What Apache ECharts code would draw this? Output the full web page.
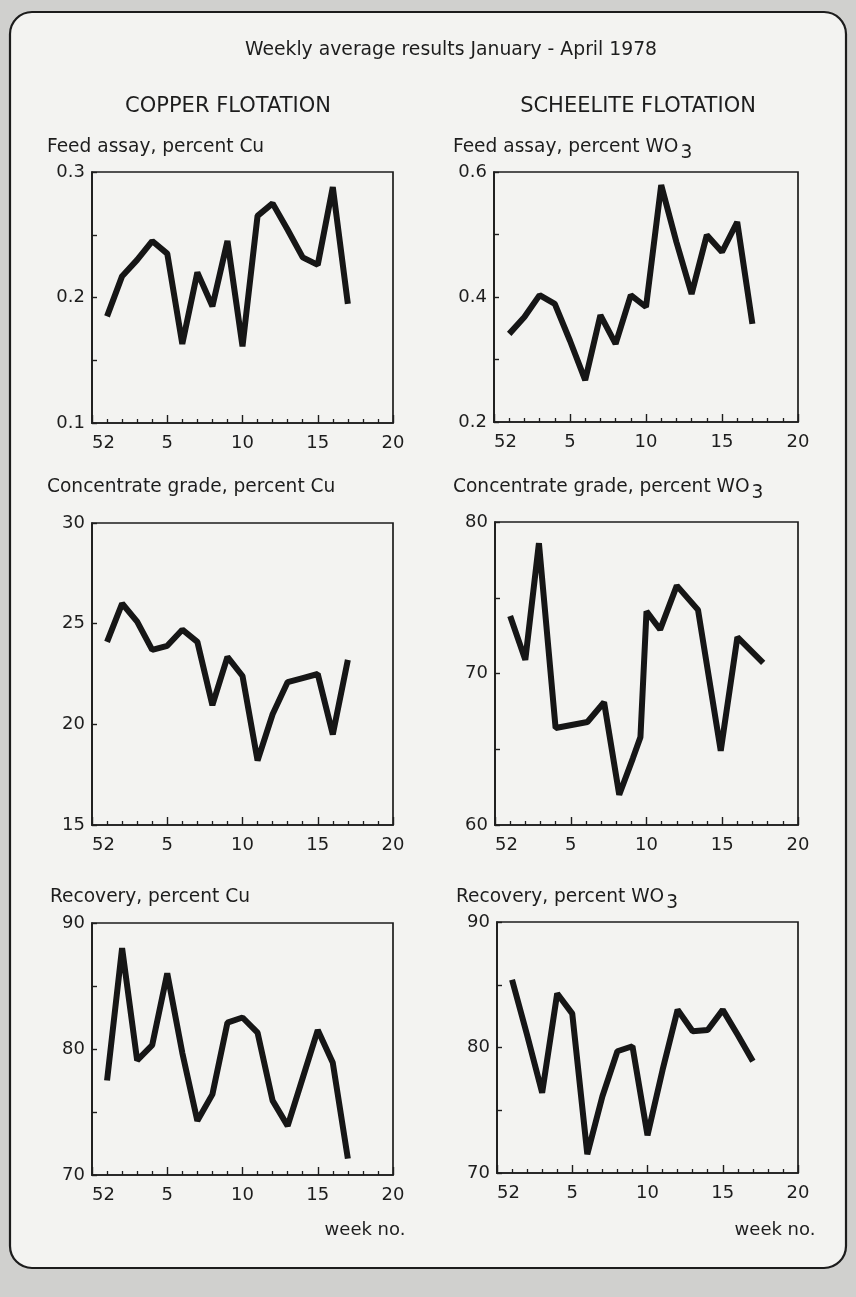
<!DOCTYPE html>
<html>
<head>
<meta charset="utf-8">
<script src="https://cdn.jsdelivr.net/npm/echarts/dist/echarts.min.js"></script>
<style>
html,body{margin:0;padding:0;background:#d0d0ce;}
#c{width:856px;height:1297px;}
</style>
</head>
<body>
<div id="c"></div>
<script>
// ---------- data ----------
const weeks = [1, 2, 3, 4, 5, 6, 7, 8, 9, 10, 11, 12, 13, 14, 15, 16, 17];
const xTickLabels = {0: '52', 5: '5', 10: '10', 15: '15', 20: '20'};

const cuFeed   = [0.185, 0.217, 0.230, 0.245, 0.235, 0.163, 0.220, 0.193, 0.245, 0.161, 0.265, 0.275, 0.254, 0.232, 0.226, 0.288, 0.195];
const wo3Feed  = [0.341, 0.368, 0.403, 0.389, 0.330, 0.267, 0.371, 0.325, 0.403, 0.384, 0.579, 0.488, 0.405, 0.499, 0.472, 0.520, 0.357];
const cuGrade  = [24.1, 26.0, 25.1, 23.7, 23.9, 24.7, 24.1, 20.95, 23.35, 22.4, 18.2, 20.5, 22.1, 22.3, 22.5, 19.5, 23.2];
const wo3GradeWeeks = [1, 2, 2.9, 4, 6.1, 7.2, 8.2, 9.1, 9.6, 10, 10.9, 12, 13.4, 14.9, 16, 17.7];
const wo3Grade = [73.8, 70.9, 78.6, 66.4, 66.8, 68.1, 62.0, 64.4, 65.8, 74.1, 72.9, 75.8, 74.2, 64.9, 72.4, 70.7];
const cuRec    = [77.5, 88.0, 79.1, 80.3, 86.0, 79.7, 74.3, 76.4, 82.1, 82.5, 81.3, 75.9, 73.9, 77.7, 81.5, 78.9, 71.3];
const wo3Rec   = [85.4, 81.0, 76.4, 84.3, 82.7, 71.5, 76.1, 79.7, 80.1, 73.0, 78.2, 83.0, 81.3, 81.4, 83.0, 81.0, 78.9];

const titleText = 'Weekly average results January - April 1978';
const colTitles = ['COPPER FLOTATION', 'SCHEELITE FLOTATION'];
const panelTitles = [
  ['Feed assay, percent Cu', 'Feed assay, percent WO', '3'],
  ['Concentrate grade, percent Cu', 'Concentrate grade, percent WO', '3'],
  ['Recovery, percent Cu', 'Recovery, percent WO', '3']
];
const xName = 'week no.';

// ---------- layout ----------
const FONT = '"DejaVu Sans", "Liberation Sans", sans-serif';
const INK = '#1d1d1d';

const panels = [
  {grid: {left: 92,  top: 172, width: 301, height: 251}, xs: weeks, ys: cuFeed,  min: 0.1, max: 0.3, interval: 0.05, step: 2, dec: 1},
  {grid: {left: 494, top: 172, width: 304, height: 250}, xs: weeks, ys: wo3Feed, min: 0.2, max: 0.6, interval: 0.1,  step: 2, dec: 1},
  {grid: {left: 92,  top: 523, width: 301, height: 302}, xs: weeks, ys: cuGrade, min: 15,  max: 30,  interval: 5,    step: 1, dec: 0},
  {grid: {left: 495, top: 522, width: 303, height: 303}, xs: wo3GradeWeeks, ys: wo3Grade, min: 60, max: 80, interval: 5, step: 2, dec: 0},
  {grid: {left: 92,  top: 923, width: 301, height: 252}, xs: weeks, ys: cuRec,   min: 70,  max: 90,  interval: 5,    step: 2, dec: 0},
  {grid: {left: 497, top: 922, width: 301, height: 251}, xs: weeks, ys: wo3Rec,  min: 70,  max: 90,  interval: 5,    step: 2, dec: 0}
];

const grids = [], xAxes = [], yAxes = [], series = [];
panels.forEach((p, i) => {
  grids.push(Object.assign({show: true, borderColor: INK, borderWidth: 1.7, backgroundColor: 'transparent'}, p.grid));
  xAxes.push({
    type: 'value', gridIndex: i, min: 0, max: 20, interval: 5,
    axisLine: {show: true, lineStyle: {color: INK, width: 1.7}},
    axisTick: {show: true, inside: true, length: 8, lineStyle: {color: INK, width: 1.4}},
    minorTick: {show: true, splitNumber: 5, length: 4, lineStyle: {color: INK, width: 1.3}},
    splitLine: {show: false}, minorSplitLine: {show: false},
    axisLabel: {
      color: INK, fontFamily: FONT, fontSize: 18, margin: 11,
      alignMinLabel: 'left',
      formatter: v => (xTickLabels[Math.round(v)] !== undefined ? xTickLabels[Math.round(v)] : '')
    }
  });
  yAxes.push({
    type: 'value', gridIndex: i, min: p.min, max: p.max, interval: p.interval,
    axisLine: {show: true, lineStyle: {color: INK, width: 1.7}},
    axisTick: {show: true, inside: true, length: 5, lineStyle: {color: INK, width: 1.4}},
    splitLine: {show: false},
    axisLabel: {
      color: INK, fontFamily: FONT, fontSize: 18, margin: 7,
      formatter: v => {
        const k = Math.round((v - p.min) / p.interval);
        return k % p.step === 0 ? v.toFixed(p.dec) : '';
      }
    }
  });
  series.push({
    type: 'line', xAxisIndex: i, yAxisIndex: i,
    data: p.xs.map((x, j) => [x, p.ys[j]]),
    symbol: 'none', silent: true,
    lineStyle: {color: '#161616', width: 6, join: 'bevel', cap: 'butt'}
  });
});

// text measuring for subscripts
const mctx = document.createElement('canvas').getContext('2d');
function tw(str, size) { mctx.font = size + 'px ' + FONT; return mctx.measureText(str).width; }

const TS = 18.6;
function txt(text, x, y, align, size) {
  return {type: 'text', z: 10, style: {text: text, x: x, y: y, fill: INK, font: (size || TS) + 'px ' + FONT,
    textAlign: align || 'left', textVerticalAlign: 'middle'}};
}

const graphics = [
  {type: 'rect', z: -100, shape: {x: 10, y: 12, width: 836, height: 1256, r: 22},
   style: {fill: '#f3f3f1', stroke: '#1c1c1c', lineWidth: 2.2}},
  txt(titleText, 451, 50, 'center', 18.8),
  txt(colTitles[0], 228, 107, 'center', 21),
  txt(colTitles[1], 638, 107, 'center', 21)
];
const rowY = [147, 487, 897];
const leftX = [47, 453];
panelTitles.forEach((t, r) => {
  const lx = r === 2 ? leftX[0] + 3 : leftX[0];
  const rx = r === 2 ? leftX[1] + 3 : leftX[1];
  graphics.push(txt(t[0], lx, rowY[r], 'left'));
  graphics.push(txt(t[1], rx, rowY[r], 'left'));
  graphics.push(txt(t[2], rx + tw(t[1], TS) + 2, rowY[r] + 6, 'left'));
});
graphics.push(txt(xName, 365, 1230, 'center', 18));
graphics.push(txt(xName, 775, 1230, 'center', 18));

const chart = echarts.init(document.getElementById('c'), null, {renderer: 'canvas'});
chart.setOption({
  animation: false,
  backgroundColor: '#d0d0ce',
  grid: grids, xAxis: xAxes, yAxis: yAxes, series: series,
  graphic: graphics
});
</script>
</body>
</html>
